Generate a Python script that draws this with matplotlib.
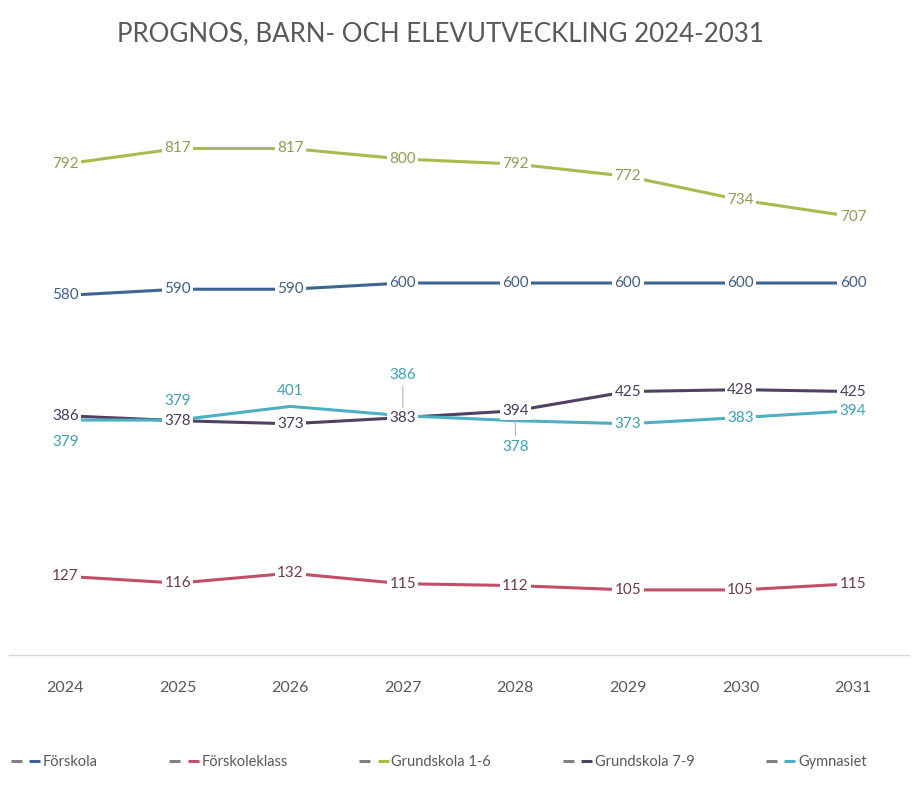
import matplotlib
matplotlib.use("Agg")
import matplotlib.pyplot as plt
from matplotlib.lines import Line2D
from matplotlib.legend_handler import HandlerTuple

plt.rcParams["font.family"] = ["Lato", "DejaVu Sans"]

years = ["2024", "2025", "2026", "2027", "2028", "2029", "2030", "2031"]
series_names = ["Förskola", "Förskoleklass", "Grundskola 1-6", "Grundskola 7-9", "Gymnasiet"]
forskola = [580, 590, 590, 600, 600, 600, 600, 600]
forskoleklass = [127, 116, 132, 115, 112, 105, 105, 115]
grundskola_1_6 = [792, 817, 817, 800, 792, 772, 734, 707]
grundskola_7_9 = [386, 378, 373, 383, 394, 425, 428, 425]
gymnasiet = [379, 379, 401, 386, 378, 373, 383, 394]

line_colors = ["#3d6593", "#c24f68", "#a9bb4e", "#4f4163", "#4cb0c2"]
label_colors = ["#3f5f88", "#6e3c46", "#8f9c58", "#4a3d5c", "#3fa0b2"]

# Gymnasiet labels sit off the line where they would collide with Grundskola 7-9
gym_offsets = [(0, -16), (0, 14), (0, 11), (0, 29), (0, -19), (0, 0), (0, 0), (0, 0)]
gym_leader = [3, 4]

fig = plt.figure(figsize=(9.14, 7.87), dpi=100)
ax = fig.add_axes([0.0098, 0.1677, 0.985, 0.709])

x = list(range(len(years)))
all_series = [forskola, forskoleklass, grundskola_1_6, grundskola_7_9, gymnasiet]

for vals, lc in zip(all_series, line_colors):
    ax.plot(x, vals, color=lc, lw=2.2, solid_capstyle="butt", zorder=2)

# thin leader lines for the displaced Gymnasiet labels
for j in gym_leader:
    v = gymnasiet[j]
    dy = gym_offsets[j][1]
    sign = 1 if dy > 0 else -1
    ax.annotate("", xy=(j, v), xycoords="data",
                xytext=(0, dy - sign * 8), textcoords="offset points",
                arrowprops=dict(arrowstyle="-", color="#c9b0b0", lw=0.8,
                                shrinkA=0, shrinkB=0),
                zorder=3)

for i, (vals, tc) in enumerate(zip(all_series, label_colors)):
    for j, v in enumerate(vals):
        dx, dy = gym_offsets[j] if i == 4 else (0, 0)
        ax.annotate(str(v), xy=(j, v), xytext=(dx, dy), textcoords="offset points",
                    ha="center", va="center", fontsize=11, color=tc,
                    bbox=dict(boxstyle="square,pad=0.15", fc="white", ec="none"),
                    zorder=5 if i != 4 else 4)

ax.set_xlim(-0.5, len(years) - 0.5)
ax.set_ylim(0, 900)
ax.set_xticks(x)
ax.set_xticklabels(years, fontsize=11.5, color="#595959")
ax.tick_params(axis="x", length=0, pad=19)
ax.set_yticks([])
for side in ("top", "right", "left"):
    ax.spines[side].set_visible(False)
ax.spines["bottom"].set_color("#d9d9d9")
ax.spines["bottom"].set_linewidth(1.0)

fig.text(0.482, 0.957, "PROGNOS, BARN- OCH ELEVUTVECKLING 2024-2031",
         ha="center", va="center", fontsize=18.6, color="#595959")

# legend: a short gray dash followed by a dash in the series colour
handles = []
for lc in line_colors:
    gray = Line2D([], [], color="#7f7f7f", lw=2.2, solid_capstyle="butt")
    col = Line2D([], [], color=lc, lw=2.2, solid_capstyle="butt")
    handles.append((gray, col))
leg = fig.legend(handles, series_names, loc="center", bbox_to_anchor=(0.48, 0.032),
                 ncol=5, frameon=False, fontsize=10.5, handlelength=2.0,
                 handletextpad=0.2, columnspacing=4.9,
                 handler_map={tuple: HandlerTuple(ndivide=None, pad=0.5)})
for t in leg.get_texts():
    t.set_color("#595959")

fig.savefig("out.png", dpi=100)
